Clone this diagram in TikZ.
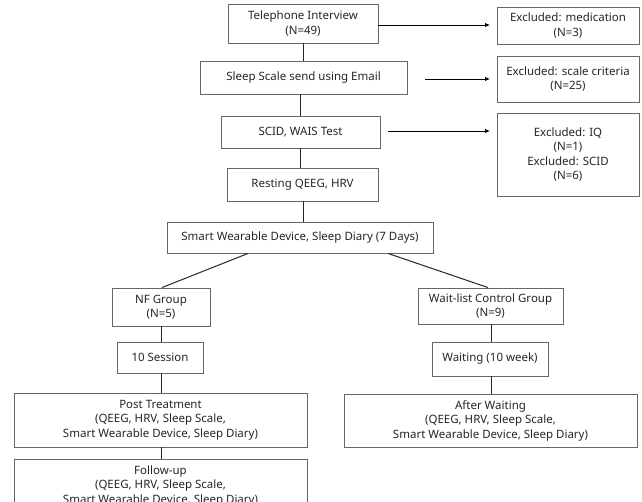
\documentclass[tikz,border=0pt]{standalone}
\usepackage{fontspec}
\setmainfont{Noto Sans}
\usetikzlibrary{arrows.meta}
\tikzset{
  bx/.style={draw=black!60, line width=0.9pt, fill=white, inner sep=0pt, align=center,
    font=\fontsize{11.5}{14.5}\selectfont, text=black!85},
  ln/.style={line width=1pt, draw=black!85},
  ar/.style={line width=0.9pt, draw=black, -{Latex[length=5pt,width=4.5pt]}}
}
\newcommand{\bxat}[6]{% name, x1, y1, x2, y2, text
  \node[bx, minimum width={#4-#2}, minimum height={#5-#3}] (#1) at ({(#2+#4)/2},{(#3+#5)/2}) {#6};}
\begin{document}
\begin{tikzpicture}[x=1pt,y=-1pt]
\clip (0,0) rectangle (642,502);
\useasboundingbox (0,0) rectangle (642,502);
\fill[white] (0,0) rectangle (642,502);
% main column
\bxat{tel}{228}{4}{378}{43}{Telephone Interview\\(N=49)}
\bxat{email}{200}{61}{407}{94}{Sleep Scale send using Email}
\bxat{scid}{221}{116}{380}{148}{SCID, WAIS Test}
\bxat{rest}{227}{168}{378}{201}{Resting QEEG, HRV}
\bxat{smart}{167}{222}{433}{253}{Smart Wearable Device, Sleep Diary (7 Days)}
% exclusions
\bxat{exmed}{497}{7}{639}{44}{Excluded: medication\\(N=3)}
\bxat{exscale}{497}{56}{639}{102}{Excluded: scale criteria\\(N=25)}
\bxat{exiq}{497}{113}{639}{196}{Excluded: IQ\\(N=1)\\Excluded: SCID\\(N=6)}
% NF branch
\bxat{nf}{112}{288}{210}{326}{NF Group\\(N=5)}
\bxat{sess}{117}{342}{203}{373}{10 Session}
\bxat{post}{14}{393}{307}{447}{Post Treatment\\(QEEG, HRV, Sleep Scale,\\Smart Wearable Device, Sleep Diary)}
\bxat{follow}{14}{459}{307}{513}{Follow-up\\(QEEG, HRV, Sleep Scale,\\Smart Wearable Device, Sleep Diary)}
% wait-list branch
\bxat{wait}{418}{288}{563}{324}{Wait-list Control Group\\(N=9)}
\bxat{waiting}{432}{342}{548}{376}{Waiting (10 week)}
\bxat{after}{344}{394}{637}{447}{After Waiting\\(QEEG, HRV, Sleep Scale,\\Smart Wearable Device, Sleep Diary)}
% vertical connectors
\draw[ln] (tel.south) -- (tel.south |- email.north);
\draw[ln] (scid.north -| 300,0) -- (300,94);
\draw[ln] (scid.south -| 300,0) -- (rest.north -| 300,0);
\draw[ln] (rest.south -| 303,0) -- (smart.north -| 303,0);
\draw[ln] (smart.south -| 248,0) -- (nf.north -| 162,0);
\draw[ln] (smart.south -| 388,0) -- (wait.north -| 488,0);
\draw[ln] (nf.south -| 161,0) -- (sess.north -| 161,0);
\draw[ln] (sess.south -| 161,0) -- (post.north -| 161,0);
\draw[ln] (post.south -| 161,0) -- (follow.north -| 161,0);
\draw[ln] (wait.south -| 491,0) -- (waiting.north -| 491,0);
\draw[ln] (waiting.south -| 491,0) -- (after.north -| 491,0);
% arrows to exclusions
\coordinate (a2) at (425,79);
\coordinate (a3) at (388,131);
\draw[ar] (tel.east |- 0,25) -- (490,25);
\draw[ar] (a2) -- (490,79);
\draw[ar] (a3) -- (490,131);
\end{tikzpicture}
\end{document}
